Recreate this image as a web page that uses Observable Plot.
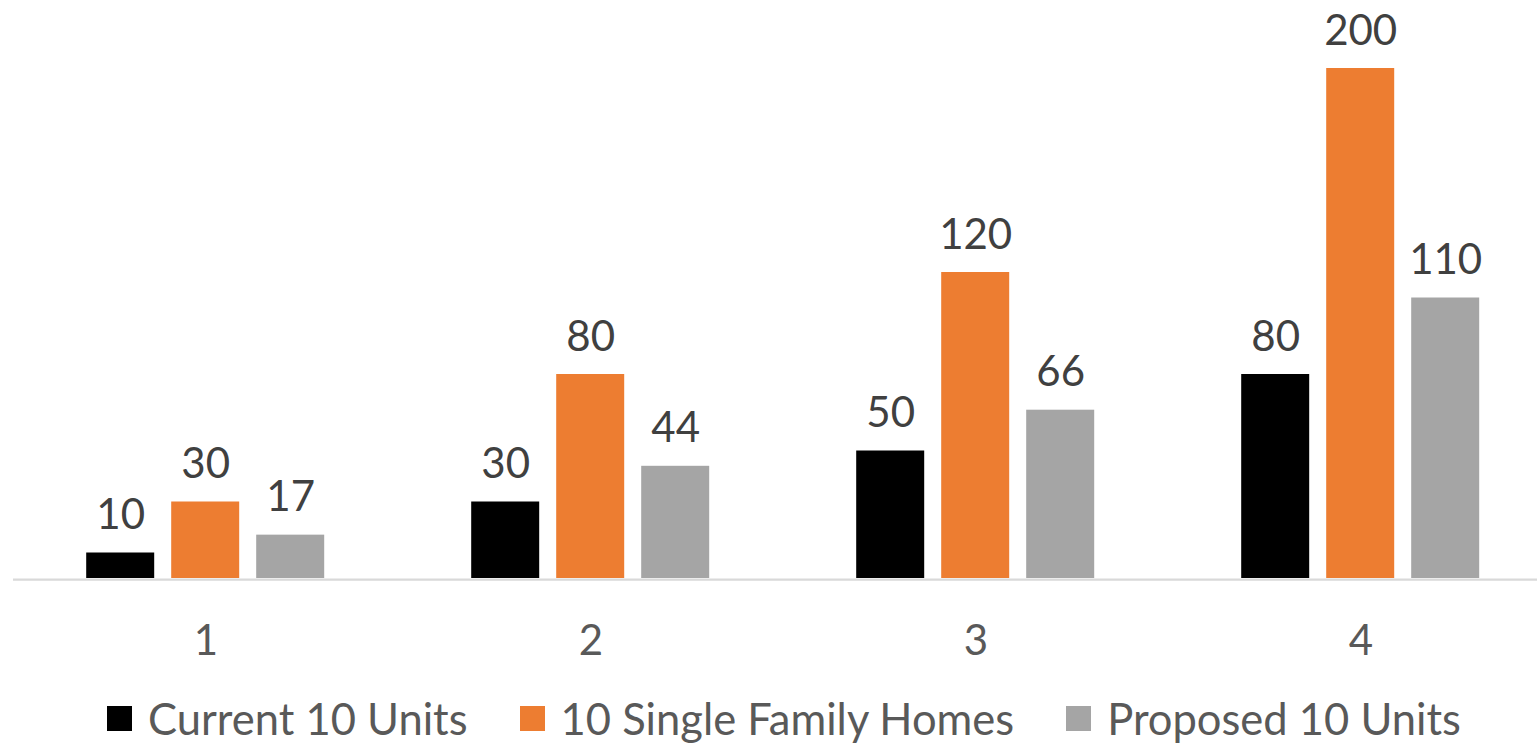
<!DOCTYPE html>
<html>
<head>
<meta charset="utf-8">
<script src="https://cdn.jsdelivr.net/npm/d3@7"></script>
<script src="https://cdn.jsdelivr.net/npm/@observablehq/plot@0.6"></script>
<style>
  html, body { margin: 0; padding: 0; overflow: hidden; background: #fff; }
  #chart { position: absolute; left: 0; top: 0; }
  #chart svg { max-width: none !important; display: block; }
  #legend { position: absolute; left: 0; top: 697px; width: 1568px; }
  .lg-swatches { font-family: Lato, sans-serif !important; font-size: 43.5px !important; line-height: 1 !important; color: #595959; margin: 0 !important; justify-content: center; min-height: 0 !important; }
  .lg-swatch { margin-right: 52px !important; }
  .lg-swatch:last-child { margin-right: 0 !important; }
  .lg-swatch > svg { margin-right: 16px !important; }
</style>
</head>
<body>
<div id="chart"></div>
<div id="legend"></div>
<script>
const groups = [1, 2, 3, 4];
const series = ["Current 10 Units", "10 Single Family Homes", "Proposed 10 Units"];
const currentUnits = [10, 30, 50, 80];
const singleFamily = [30, 80, 120, 200];
const proposedUnits = [17, 44, 66, 110];
const colors = ["#000000", "#ED7D31", "#A5A5A5"];

const seriesValues = [currentUnits, singleFamily, proposedUnits];
const data = groups.flatMap((g, i) =>
  series.map((s, j) => ({group: g, series: s, value: seriesValues[j][i]}))
);

const chart = Plot.plot({
  width: 1554,
  height: 670,
  marginLeft: 12.8,
  marginRight: 0,
  marginTop: 0,
  marginBottom: 92,
  style: {fontFamily: "Lato, sans-serif", overflow: "visible", background: "#fff"},
  fx: {domain: groups, padding: 0, label: null},
  x: {domain: series, paddingInner: 0.2047, paddingOuter: 0.8556, axis: null},
  y: {domain: [0, 200], range: [578, 68], axis: null},
  color: {domain: series, range: colors},
  marks: [
    Plot.barY(data, {fx: "group", x: "series", y: "value", fill: "series"}),
    Plot.ruleY([0], {stroke: "#D9D9D9", strokeWidth: 2.25, dy: 1}),
    Plot.text(data, {fx: "group", x: "series", y: "value", text: d => String(d.value),
      lineAnchor: "bottom", dy: -24, fontSize: 42, fill: "#404040"}),
    Plot.axisFx({anchor: "bottom", tickSize: 0, tickPadding: 47, fontSize: 42, fill: "#595959", label: null})
  ]
});
document.getElementById("chart").appendChild(chart);

const legend = Plot.legend({
  color: {domain: series, range: colors},
  swatchSize: 25,
  className: "lg"
});
document.getElementById("legend").appendChild(legend);
</script>
</body>
</html>
